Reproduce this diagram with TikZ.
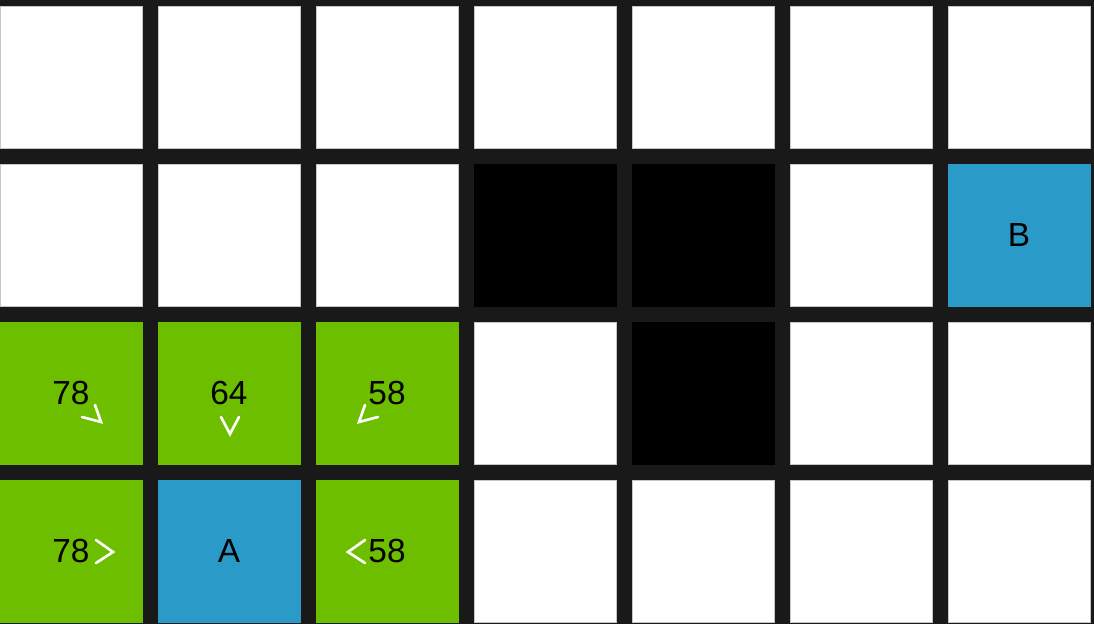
\documentclass[tikz,border=0pt]{standalone}
\usepackage{fontspec}
\setmainfont{Liberation Sans}
\usetikzlibrary{positioning}
\definecolor{gapgray}{RGB}{25,25,25}
\definecolor{pathgreen}{RGB}{110,190,0}
\definecolor{endblue}{RGB}{42,155,200}

\begin{document}
\begin{tikzpicture}[x=0.02cm, y=-0.02cm]
		\tikzstyle{Cell} = [rectangle, minimum size=2.84cm, inner sep=0pt, text centered, draw=gray!45, fill=white, line width=0.4pt, font=\fontsize{19}{19}\selectfont]
		\tikzstyle{Open} = [Cell, fill=pathgreen, draw=pathgreen]
		\tikzstyle{Goal} = [Cell, fill=endblue, draw=endblue]
		\tikzstyle{Wall} = [Cell, fill=black, draw=black]
		\tikzstyle{chev} = [white, line width=1.5pt, line cap=round, line join=miter]

		\useasboundingbox (0,0) rectangle (1094,624);
		\fill[gapgray] (0,0) rectangle (1094,624);

		% empty grid
		\foreach \r in {0,...,3}
			\foreach \c in {0,...,6}
				\node (n\r\c) [Cell] at (71+158*\c, 77+158*\r) {};

		% walls
		\node (w13) [Wall] at (n13) {};
		\node (w14) [Wall] at (n14) {};
		\node (w24) [Wall] at (n24) {};

		% start and target
		\node (A) [Goal] at (n31) {A};
		\node (B) [Goal] at (n16) {B};

		% scored neighbours
		\node (g20) [Open] at (n20) {78};
		\node (g21) [Open] at (n21) {64};
		\node (g22) [Open] at (n22) {58};
		\node (g30) [Open] at (n30) {78};
		\node (g32) [Open] at (n32) {58};

		% direction marks
		\draw[chev] ([shift={(11,24)}]g20.center) -- ([shift={(30,29)}]g20.center) -- ([shift={(24,12)}]g20.center);
		\draw[chev] ([shift={(-8,24)}]g21.center) -- ([shift={(1,41)}]g21.center) -- ([shift={(10,24)}]g21.center);
		\draw[chev] ([shift={(-9,24)}]g22.center) -- ([shift={(-28,29)}]g22.center) -- ([shift={(-22,12)}]g22.center);
		\draw[chev] ([shift={(25,-11)}]g30.center) -- ([shift={(42,1)}]g30.center) -- ([shift={(25,12)}]g30.center);
		\draw[chev] ([shift={(-22,-11)}]g32.center) -- ([shift={(-39,1)}]g32.center) -- ([shift={(-22,12)}]g32.center);
\end{tikzpicture}
\end{document}
